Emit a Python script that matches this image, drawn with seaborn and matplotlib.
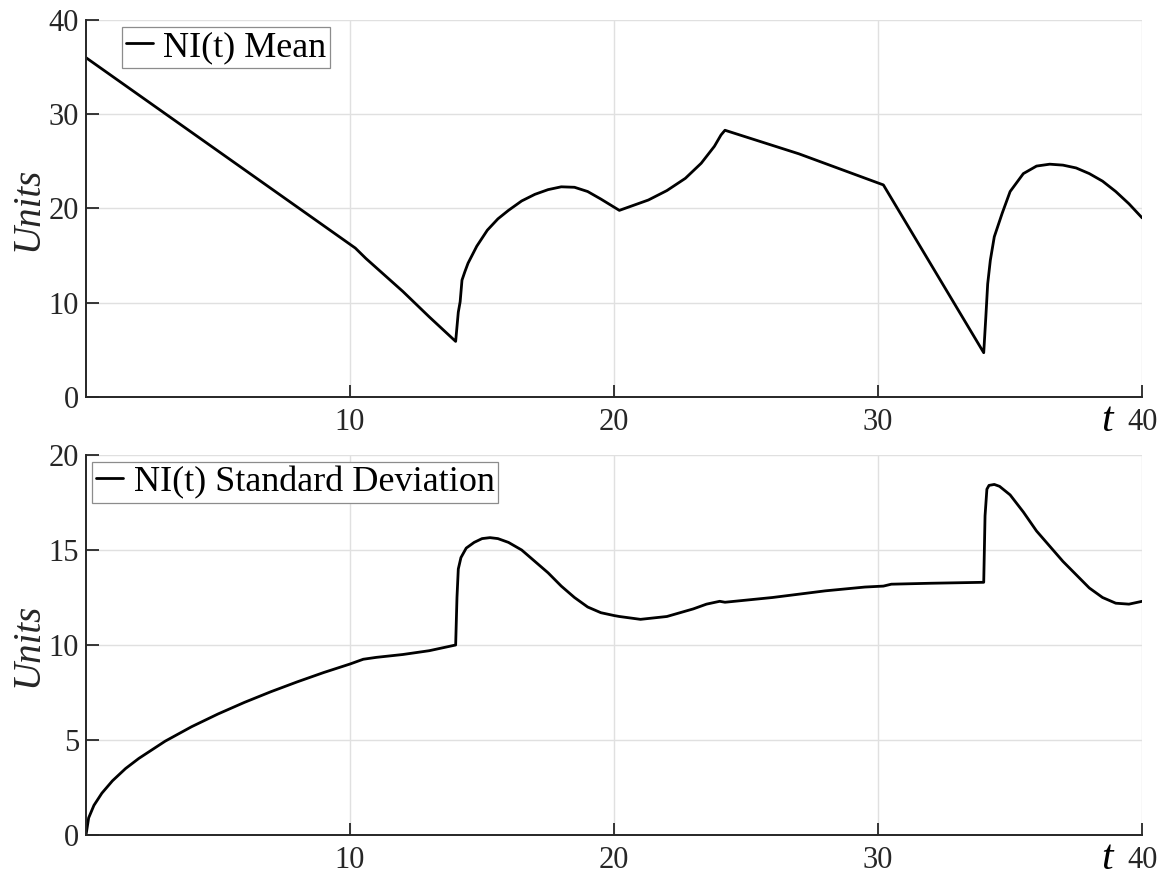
import matplotlib
matplotlib.use("Agg")
import matplotlib.pyplot as plt
import seaborn as sns
import pandas as pd

# ---- data ----
t_mean = [0, 10.2, 10.6, 11, 12, 13, 14, 14.1, 14.17, 14.24, 14.35, 14.47, 14.8, 15.2,
          15.6, 16, 16.5, 17, 17.5, 18, 18.5, 19, 19.5, 20.2, 20.7, 21.3, 22, 22.7, 23.3,
          23.8, 24.05, 24.2, 27, 30.2, 34, 34.08, 34.15, 34.25, 34.4, 34.7, 35, 35.5, 36,
          36.5, 37, 37.5, 38, 38.5, 39, 39.5, 40]
mean_vals = [36, 15.8, 14.7, 13.7, 11.2, 8.5, 5.9, 9.0, 10.1, 12.4, 13.3, 14.2, 16.0, 17.7,
             18.9, 19.8, 20.8, 21.5, 22.0, 22.3, 22.25, 21.8, 21.0, 19.8, 20.3, 20.9, 21.9,
             23.2, 24.8, 26.6, 27.8, 28.3, 25.8, 22.5, 4.7, 8.5, 12.0, 14.5, 17.0, 19.5,
             21.8, 23.7, 24.5, 24.7, 24.6, 24.3, 23.7, 22.9, 21.8, 20.5, 19.0]

t_sd = [0, 0.1, 0.3, 0.6, 1, 1.5, 2, 3, 4, 5, 6, 7, 8, 9, 10, 10.2, 10.5, 11, 12, 13, 14,
        14.05, 14.1, 14.2, 14.4, 14.7, 15, 15.3, 15.6, 16, 16.5, 17, 17.5, 18, 18.5, 19,
        19.5, 20, 20.2, 21, 22, 23, 23.5, 24, 24.2, 26, 28, 29.5, 30.2, 30.5, 32, 34,
        34.05, 34.12, 34.2, 34.4, 34.6, 35, 35.5, 36, 36.5, 37, 37.5, 38, 38.5, 39, 39.5, 40]
sd_vals = [0, 0.9, 1.56, 2.2, 2.85, 3.5, 4.03, 4.94, 5.7, 6.37, 6.98, 7.54, 8.06, 8.55, 9.0,
           9.1, 9.25, 9.35, 9.5, 9.7, 10.0, 12.5, 14.0, 14.6, 15.1, 15.4, 15.6, 15.65, 15.6,
           15.4, 15.0, 14.4, 13.8, 13.1, 12.5, 12.0, 11.7, 11.55, 11.5, 11.35, 11.5, 11.9,
           12.15, 12.3, 12.25, 12.5, 12.85, 13.05, 13.1, 13.2, 13.25, 13.3, 16.8, 18.2,
           18.4, 18.45, 18.35, 17.9, 17.0, 16.0, 15.2, 14.4, 13.7, 13.0, 12.5, 12.2, 12.15,
           12.3]

x_ticks = [10, 20, 30, 40]
y_ticks_top = [0, 10, 20, 30, 40]
y_ticks_bot = [0, 5, 10, 15, 20]
label_top = "NI(t) Mean"
label_bot = "NI(t) Standard Deviation"

sns.set_theme(style="white")
plt.rcParams['font.family'] = ['Liberation Serif', 'DejaVu Serif']

fig = plt.figure(figsize=(11.67, 8.76), dpi=100)
ax1 = fig.add_axes([0.0737, 0.5468, 0.905, 0.4304])
ax2 = fig.add_axes([0.0737, 0.0468, 0.905, 0.4338])

df_top = pd.DataFrame({"t": t_mean, "v": mean_vals})
df_bot = pd.DataFrame({"t": t_sd, "v": sd_vals})

sns.lineplot(data=df_top, x="t", y="v", ax=ax1, color="black", linewidth=2.0,
             estimator=None, label=label_top)
sns.lineplot(data=df_bot, x="t", y="v", ax=ax2, color="black", linewidth=2.0,
             estimator=None, label=label_bot)

dark = "#262626"
for ax, yt, ymax, lx in [(ax1, y_ticks_top, 40, 0.034), (ax2, y_ticks_bot, 20, 0.0057)]:
    ax.set_xlim(0, 40)
    ax.set_ylim(0, ymax)
    ax.set_xticks(x_ticks)
    ax.set_yticks(yt)
    ax.grid(True, color="#e0e0e0", linewidth=1.0)
    ax.set_axisbelow(True)
    for s in ["top", "right"]:
        ax.spines[s].set_visible(False)
    for s in ["left", "bottom"]:
        ax.spines[s].set_color(dark)
        ax.spines[s].set_linewidth(1.4)
    ax.tick_params(direction="in", length=9, width=1.3, colors=dark,
                   labelsize=22, left=True, bottom=True)
    ax.tick_params(axis="x", pad=8)
    ax.tick_params(axis="y", pad=5)
    ax.set_xlabel("")
    ax.set_ylabel("Units", fontsize=28, style="italic", color=dark)
    ax.yaxis.label.set_va("center")
    ax.yaxis.set_label_coords(-0.055, 0.5)
    ax.text(0.967, -0.012, "t", transform=ax.transAxes, fontsize=30, style="italic",
            ha="center", va="top", color="black")
    leg = ax.legend(loc="upper left", bbox_to_anchor=(lx, 0.981), borderaxespad=0,
                    fontsize=26, handlelength=0.75, handletextpad=0.3, borderpad=0.1,
                    frameon=True, fancybox=False, edgecolor="#8c8c8c", framealpha=1)
    leg.get_frame().set_linewidth(0.9)
    for line in leg.get_lines():
        line.set_linewidth(2.0)
    for txt in leg.get_texts():
        txt.set_color("black")

fig.savefig("out.png", dpi=100)
